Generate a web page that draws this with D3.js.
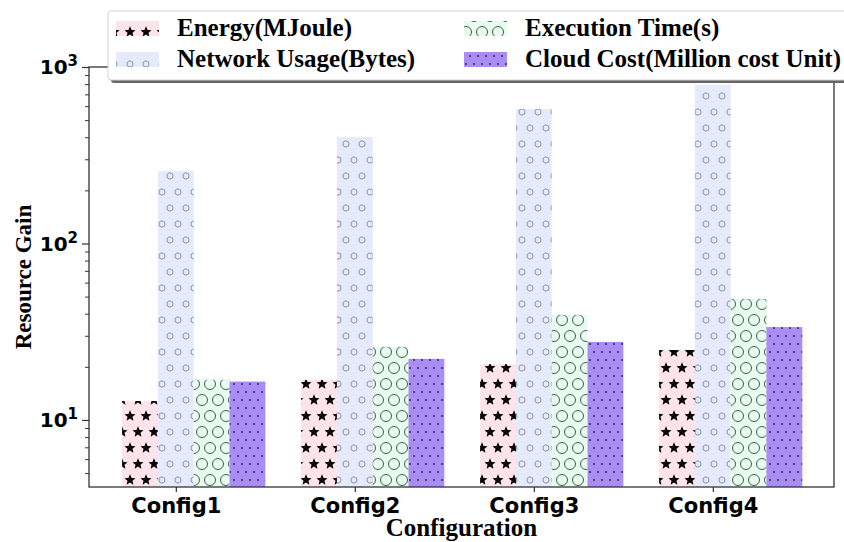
<!DOCTYPE html>
<html>
<head>
<meta charset="utf-8">
<script src="https://cdn.jsdelivr.net/npm/d3@7"></script>
<style>
  body { margin: 0; background: #fff; }
  svg { display: block; }
</style>
</head>
<body>
<svg id="chart" width="844" height="542"></svg>
<script>
// data
var categories = ['Config1', 'Config2', 'Config3', 'Config4'];
var seriesNames = ['Energy(MJoule)', 'Network Usage(Bytes)', 'Execution Time(s)', 'Cloud Cost(Million cost Unit)'];
var energy = [12.8, 16.9, 20.7, 24.9];
var network = [257, 401, 578, 791];
var execTime = [16.9, 25.9, 39.4, 48.5];
var cloudCost = [16.5, 22.2, 27.7, 33.6];
var yMajor = [10, 100, 1000];

var series = [energy, network, execTime, cloudCost];
var fills = ['#fde3ea', '#e6ebfc', '#e7fbee', '#a98cf6'];
var hatches = ['star', 'small', 'large', 'dot'];

var svg = d3.select('#chart');
var mLeft = 89, mRight = 834, mTop = 67, mBottom = 487;
var barW = 0.2;

var x = d3.scaleLinear().domain([-0.285, 3.877]).range([mLeft, mRight]);
var y = d3.scaleLog().domain([4.17, 1000]).range([mBottom, mTop]);

// hatch patterns (tile 16x32, rows offset by half)
var defs = svg.append('defs');
var starPath = (function() {
    var pts = [];
    for (var i = 0; i < 10; i++) {
        var r = i % 2 == 0 ? 5.8 : 2.6;
        var a = -Math.PI / 2 + i * Math.PI / 5;
        pts.push([r * Math.cos(a), r * Math.sin(a)]);
    }
    return 'M' + pts.map(function(p) { return p[0].toFixed(2) + ',' + p[1].toFixed(2); }).join('L') + 'Z';
})();
var spots = [[2, 0], [18, 0], [2, 32], [18, 32], [10, 16], [-14, 0], [-14, 32]];

hatches.forEach(function(h, i) {
    var tw = h == 'dot' ? 8 : 16, th = h == 'dot' ? 16 : 32;
    var p = defs.append('pattern')
        .attr('id', 'hatch' + i)
        .attr('patternUnits', 'userSpaceOnUse')
        .attr('width', tw).attr('height', th);
    p.append('rect').attr('width', tw).attr('height', th).attr('fill', fills[i]);
    var pos = h == 'dot' ? [[2, 0], [10, 0], [2, 16], [10, 16], [6, 8], [-6, 0], [-6, 16]] : spots;
    pos.forEach(function(s) {
        if (h == 'star') {
            p.append('path').attr('d', starPath).attr('transform', 'translate(' + s[0] + ',' + s[1] + ')').attr('fill', '#000');
        } else if (h == 'small') {
            p.append('circle').attr('cx', s[0]).attr('cy', s[1]).attr('r', 3.1)
                .attr('fill', 'none').attr('stroke', '#80869a').attr('stroke-width', 0.9);
        } else if (h == 'large') {
            p.append('circle').attr('cx', s[0]).attr('cy', s[1]).attr('r', 5.5)
                .attr('fill', 'none').attr('stroke', '#4a5a50').attr('stroke-width', 1);
        } else {
            p.append('circle').attr('cx', s[0]).attr('cy', s[1]).attr('r', 0.9).attr('fill', '#222');
        }
    });
});

svg.append('clipPath').attr('id', 'plotclip')
    .append('rect').attr('x', mLeft).attr('y', mTop).attr('width', mRight - mLeft).attr('height', mBottom - mTop);

// bars
var plot = svg.append('g').attr('clip-path', 'url(#plotclip)');
series.forEach(function(vals, k) {
    plot.selectAll('rect.s' + k)
        .data(vals)
        .enter().append('rect')
        .attr('class', 's' + k)
        .attr('x', function(d, i) { return x(i + k * barW - barW / 2); })
        .attr('width', x(barW) - x(0))
        .attr('y', function(d) { return y(d); })
        .attr('height', function(d) { return mBottom - y(d); })
        .attr('fill', 'url(#hatch' + k + ')');
});

// frame
svg.append('rect')
    .attr('x', mLeft).attr('y', mTop).attr('width', mRight - mLeft).attr('height', mBottom - mTop)
    .attr('fill', 'none').attr('stroke', '#333').attr('stroke-width', 1.3);

// y axis: major + minor
var minor = [];
[1, 10, 100].forEach(function(dec) {
    for (var m = 2; m <= 9; m++) {
        var v = m * dec;
        if (v > y.domain()[0] && v < 1000) minor.push(v);
    }
});
var yAxis = svg.append('g').attr('transform', 'translate(' + mLeft + ',0)')
    .call(d3.axisLeft(y).tickValues(yMajor).tickSize(7).tickSizeOuter(0).tickPadding(4).tickFormat(''));
yAxis.select('.domain').remove();
yAxis.selectAll('.tick line').attr('stroke', '#333').attr('stroke-width', 1.2);
yAxis.selectAll('.tick text').each(function(d) {
    var t = d3.select(this).text(null)
        .attr('font-family', 'DejaVu Sans').attr('font-weight', 'bold').attr('font-size', 20)
        .attr('fill', '#000').attr('dy', '0.34em');
    t.append('tspan').text('10');
    t.append('tspan').text(Math.round(Math.log10(d))).attr('font-size', 15).attr('dy', '-0.55em');
});
var yMinor = svg.append('g').attr('transform', 'translate(' + mLeft + ',0)')
    .call(d3.axisLeft(y).tickValues(minor).tickSize(4).tickSizeOuter(0).tickFormat(''));
yMinor.select('.domain').remove();
yMinor.selectAll('.tick line').attr('stroke', '#333').attr('stroke-width', 1);

// x axis
var xAxis = svg.append('g').attr('transform', 'translate(0,' + mBottom + ')')
    .call(d3.axisBottom(x).tickValues(d3.range(categories.length).map(function(i) { return i + barW; }))
        .tickSize(5).tickSizeOuter(0).tickPadding(6)
        .tickFormat(function(d, i) { return categories[i]; }));
xAxis.select('.domain').remove();
xAxis.selectAll('.tick line').attr('stroke', '#333').attr('stroke-width', 1.2);
xAxis.selectAll('.tick text')
    .attr('font-family', 'DejaVu Sans').attr('font-weight', 'bold').attr('font-size', 21).attr('fill', '#000');

// axis titles
svg.append('text')
    .attr('x', (mLeft + mRight) / 2).attr('y', 536)
    .attr('text-anchor', 'middle')
    .attr('font-family', 'Liberation Serif').attr('font-weight', 'bold').attr('font-size', 25)
    .text('Configuration');
svg.append('text')
    .attr('transform', 'translate(31,' + (mTop + mBottom) / 2 + ') rotate(-90)')
    .attr('text-anchor', 'middle')
    .attr('font-family', 'Liberation Serif').attr('font-weight', 'bold').attr('font-size', 23)
    .text('Resource Gain');

// legend
var leg = svg.append('g');
leg.append('rect').attr('x', 111).attr('y', 14).attr('width', 760).attr('height', 69)
    .attr('rx', 3).attr('fill', '#666');
leg.append('rect').attr('x', 108).attr('y', 11).attr('width', 760).attr('height', 69)
    .attr('rx', 3).attr('fill', '#fff').attr('stroke', '#d4d4d4').attr('stroke-width', 1);
seriesNames.forEach(function(name, k) {
    var col = Math.floor(k / 2), row = k % 2;
    var px = col == 0 ? 116 : 464;
    var py = row == 0 ? 21 : 52;
    leg.append('rect').attr('x', px).attr('y', py).attr('width', 43).attr('height', 15)
        .attr('fill', 'url(#hatch' + k + ')');
    leg.append('text').attr('x', px + 61).attr('y', py + 15)
        .attr('font-family', 'Liberation Serif').attr('font-weight', 'bold').attr('font-size', 25)
        .text(name);
});
</script>
</body>
</html>
